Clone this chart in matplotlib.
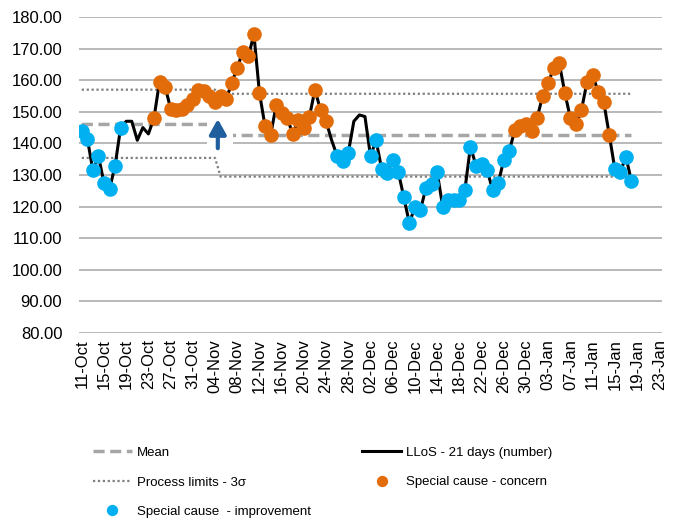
import matplotlib.pyplot as plt
import numpy as np
import pandas as pd

# daily values of the length of stay measure, 11-Oct onwards
llos = [144.0, 141.5, 131.5, 136.0, 127.5, 125.5, 133.0, 145.0, 147.0, 147.0,
        141.0, 145.0, 143.0, 148.0, 159.5, 158.0, 151.0, 150.5, 151.0, 152.0,
        154.0, 157.0, 156.5, 155.0, 153.0, 155.0, 154.0, 159.0, 164.0, 169.0,
        167.5, 174.5, 156.0, 145.5, 142.5, 152.0, 149.5, 148.0, 143.0, 147.5,
        145.0, 148.5, 157.0, 150.5, 147.0, 141.0, 136.0, 134.5, 137.0, 147.0,
        149.0, 148.5, 136.0, 141.0, 132.0, 130.5, 134.7, 131.0, 123.0, 114.7,
        120.0, 119.0, 126.0, 127.0, 131.0, 120.0, 122.0, 122.0, 122.0, 125.3,
        139.0, 133.0, 133.5, 131.5, 125.3, 127.4, 134.7, 137.7, 144.2, 145.5,
        146.0, 144.0, 148.0, 155.0, 159.0, 164.0, 165.4, 156.0, 148.0, 146.0,
        150.6, 159.5, 161.6, 156.4, 153.2, 142.7, 132.0, 131.0, 135.8, 128.0]

# special cause runs: i = improvement, c = concern, - = none
flag_runs = [('i', 8), ('-', 5), ('c', 32), ('-', 1), ('i', 3), ('-', 3),
             ('i', 26), ('c', 18), ('i', 4)]

# process limits before / after the change point
change_at = 25
mean_levels = [146.0, 142.5]
ucl_levels = [157.0, 155.7]
lcl_levels = [135.4, 129.5]

axis_dates = pd.date_range('2021-10-11', '2022-01-23', freq='D')

x = np.arange(len(llos))
y = np.array(llos)
flags = np.array([f for f, n in flag_runs for _ in range(n)])

mean = np.where(x < change_at, mean_levels[0], mean_levels[1])
ucl = np.where(x < change_at, ucl_levels[0], ucl_levels[1])
lcl = np.where(x < change_at, lcl_levels[0], lcl_levels[1])

plt.rcParams['font.family'] = ['Liberation Sans', 'DejaVu Sans']

fig = plt.figure(figsize=(6.73, 5.23), dpi=100)
ax = fig.add_axes([79 / 673, 190 / 523, 583 / 673, 316 / 523])

grey_line = '#A6A6A6'
orange = '#E36C0A'
blue = '#00B0F0'

ax.plot(x, mean, color=grey_line, lw=2.5, ls=(0, (3.2, 1.6)), zorder=2, label='Mean')
ax.plot(x, ucl, color='#7F7F7F', lw=1.6, ls=(0, (1, 1.2)), zorder=2,
        label='Process limits - 3σ')
ax.plot(x, lcl, color='#7F7F7F', lw=1.6, ls=(0, (1, 1.2)), zorder=2)

# white box behind the change arrow
ax.fill_between([22.6, 27.2], 136.6, 149.4, color='white', zorder=3, lw=0)
ax.annotate('', xy=(24.5, 148.6), xytext=(24.5, 137.6),
            arrowprops=dict(arrowstyle='-|>,head_width=0.25,head_length=0.45',
                            mutation_scale=20, color='#1F5F9E', lw=3), zorder=4)

ax.plot(x, y, color='black', lw=2.2, zorder=5, label='LLoS - 21 days (number)')
ax.plot(x[flags == 'c'], y[flags == 'c'], 'o', color=orange, ms=9.5, zorder=6,
        label='Special cause - concern')
ax.plot(x[flags == 'i'], y[flags == 'i'], 'o', color=blue, ms=9.5, zorder=6,
        label='Special cause  - improvement')

ax.set_ylim(80, 180)
ax.set_yticks(np.arange(80, 181, 10))
ax.set_yticklabels([f'{v:.2f}' for v in np.arange(80, 181, 10)], fontsize=12)
ax.set_xlim(-0.5, len(axis_dates) - 0.5)
tick_pos = np.arange(0, len(axis_dates), 4)
ax.set_xticks(tick_pos)
ax.set_xticklabels([axis_dates[i].strftime('%d-%b') for i in tick_pos],
                   rotation=90, fontsize=12)
ax.tick_params(axis='x', length=0, pad=4.5)
ax.tick_params(axis='y', length=0, pad=12)
ax.grid(axis='y', color='#B3B3B3', lw=1.3)
ax.set_axisbelow(True)
for s in ax.spines.values():
    s.set_visible(False)

handles, labels = ax.get_legend_handles_labels()
order = [0, 1, 4, 2, 3]
fig.legend([handles[i] for i in order], [labels[i] for i in order],
           loc='upper left', bbox_to_anchor=(81 / 673, 1 - 435 / 523),
           ncol=2, frameon=False, handlelength=2.95,
           handletextpad=0.38, labelspacing=1.3, columnspacing=3.9,
           markerscale=0.75, prop={'size': 9.5})

fig.savefig('out.png', dpi=100)
